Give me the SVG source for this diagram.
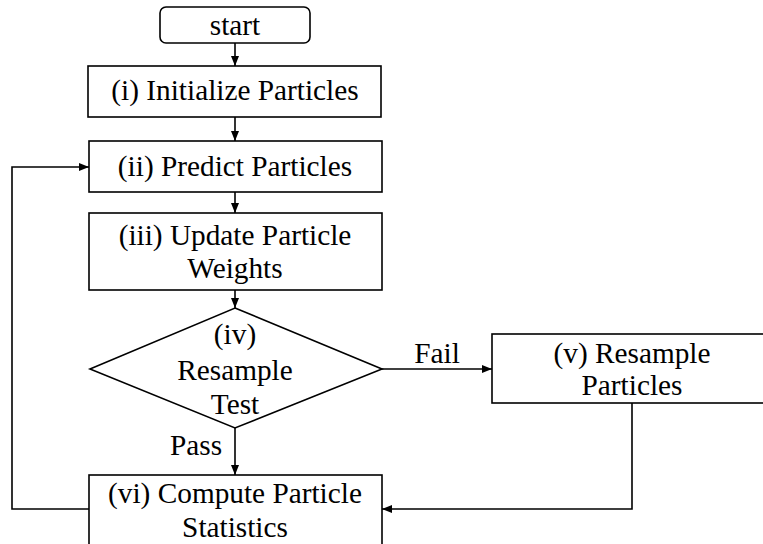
<svg xmlns="http://www.w3.org/2000/svg" width="763" height="544" viewBox="0 0 763 544">
<style>
.n{fill:#fff;stroke:#000;stroke-width:1.6}
.c{fill:none;stroke:#000;stroke-width:1.6}
.t{font-family:"Liberation Serif","Times New Roman",serif;font-size:29.3px;fill:#000;text-anchor:middle}
</style>
<defs>
<marker id="a" viewBox="0 0 10 8" refX="10" refY="4" markerWidth="10" markerHeight="8" markerUnits="userSpaceOnUse" orient="auto">
<path d="M0,0L10,4L0,8z" fill="#000"/>
</marker>
</defs>
<rect width="763" height="544" fill="#fff"/>
<g id="connectors">
<path class="c" d="M235,43V66" marker-end="url(#a)"/>
<path class="c" d="M235,117V141" marker-end="url(#a)"/>
<path class="c" d="M235,192V213" marker-end="url(#a)"/>
<path class="c" d="M235,290V308" marker-end="url(#a)"/>
<path class="c" d="M235,428V475" marker-end="url(#a)"/>
<path class="c" d="M382,369H492" marker-end="url(#a)"/>
<path class="c" d="M632,403V509H382" marker-end="url(#a)"/>
<path class="c" d="M89,509H12V167H89" marker-end="url(#a)"/>
<text class="t" x="437" y="363">Fail</text>
<text class="t" x="196" y="455">Pass</text>
</g>
<g id="start">
<rect class="n" x="160" y="7" width="150" height="36" rx="6"/>
<text class="t" x="235" y="35">start</text>
</g>
<g id="init">
<rect class="n" x="88" y="66" width="293" height="51"/>
<text class="t" x="235" y="100">(i) Initialize Particles</text>
</g>
<g id="predict">
<rect class="n" x="89" y="141" width="293" height="51"/>
<text class="t" x="235" y="176">(ii) Predict Particles</text>
</g>
<g id="update">
<rect class="n" x="89" y="213" width="293" height="77"/>
<text class="t" x="235" y="245">(iii) Update Particle</text>
<text class="t" x="235" y="278">Weights</text>
</g>
<g id="test">
<polygon class="n" points="235,308 382,369 235,428 90,369"/>
<text class="t" x="235" y="344">(iv)</text>
<text class="t" x="235" y="380">Resample</text>
<text class="t" x="235" y="414">Test</text>
</g>
<g id="resample">
<rect class="n" x="492" y="334" width="290" height="69"/>
<text class="t" x="632" y="363">(v) Resample</text>
<text class="t" x="632" y="395">Particles</text>
</g>
<g id="stats">
<rect class="n" x="89" y="475" width="293" height="80"/>
<text class="t" x="235" y="503">(vi) Compute Particle</text>
<text class="t" x="235" y="537">Statistics</text>
</g>
</svg>
